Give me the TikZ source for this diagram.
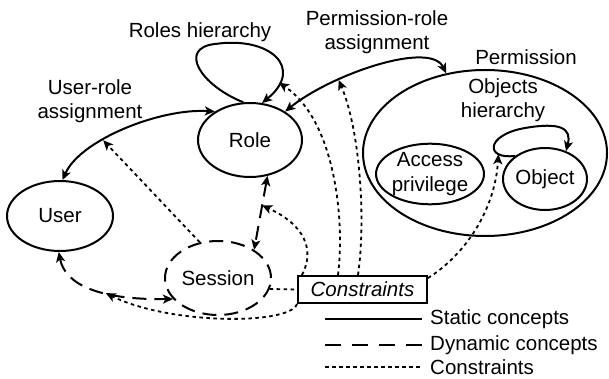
\documentclass[tikz,border=0pt]{standalone}
\usepackage{fontspec}
\setmainfont{Liberation Sans}
\usetikzlibrary{shapes.geometric,arrows.meta}
\begin{document}
\begin{tikzpicture}[x=1pt,y=-1pt,
  every node/.style={font=\fontsize{20.5}{24.5}\selectfont, inner sep=0pt, align=center},
  ell/.style={draw, ellipse, line width=2pt, inner sep=0pt},
  static/.style={line width=2pt},
  dyn/.style={line width=2pt, dash pattern=on 14pt off 8pt},
  cons/.style={line width=1.8pt, dash pattern=on 3.5pt off 3.5pt},
  >={Stealth[length=10pt,width=9pt,inset=2.5pt]}
]
\useasboundingbox (0,0) rectangle (609,379);

% nodes
\node[ell, minimum width=104pt, minimum height=74pt] (role) at (250,140) {Role};
\node[ell, minimum width=106pt, minimum height=70pt] (user) at (60,216) {User};
\node[ell, dyn, minimum width=106pt, minimum height=74pt] (session) at (218,278) {Session};
\node[ell, minimum width=244pt, minimum height=166pt] (perm) at (485,153) {};
\node[ell, minimum width=104pt, minimum height=58pt] (access) at (430,174) {Access\\privilege};
\node[ell, minimum width=84pt, minimum height=62pt] (obj) at (545,179) {Object};
\node[draw, line width=2pt, minimum width=129pt, minimum height=27pt, font=\fontsize{20.5}{24.5}\selectfont\itshape] (constraints) at (362.5,289.5) {Constraints};

% labels
\node (rhl) at (200,32) {Roles hierarchy};
\node (ural) at (90,101) {User-role\\assignment};
\node (pral) at (377,32) {Permission-role\\assignment};
\node (perml) at (526,57) {Permission};
\node (ohl) at (503,100) {Objects\\hierarchy};

% static connectors
\draw[static,<->] (user.86) .. controls (80,140) and (160,108) .. coordinate[pos=0.37] (ura1) (role.141);
\draw[static,->] (role.100) .. controls (200,85) and (178,48) .. (215,44)
   .. controls (270,36) and (305,68) .. coordinate[pos=0.8] (rh1) (role.72);
\draw[static,<->] (role.39) .. controls (330,75) and (430,40) .. coordinate[pos=0.31] (pra1) (perm.116);
\draw[static,->] (obj.142) .. controls (485,160) and (485,135) .. coordinate[pos=0.25] (oh1) (525,128)
   .. controls (560,122) and (572,128) .. (obj.53);

% dynamic connectors
\draw[dyn,<->] (role.296) -- coordinate[pos=0.4] (rs1) (session.38);
\draw[dyn,<->] (user.268) .. controls (65,285) and (100,300) .. coordinate[pos=0.62] (us1) (session.205);

% constraint connectors
\draw[cons,->] (session.117) -- (ura1);
\draw[cons,->] ([xshift=5pt]constraints.north west) .. controls (315,250) and (305,225) .. (rs1);
\draw[cons,->] ([xshift=-4.5pt]constraints.north) .. controls (366,220) and (360,130) .. (pra1);
\draw[cons,->] ([xshift=-24.5pt]constraints.north) .. controls (345,220) and (335,120) .. (rh1);
\draw[cons,->] ([yshift=-3pt]constraints.north east) .. controls (465,255) and (495,210) .. (oh1);
\draw[cons] (session.-12) -- (constraints.west);
\draw[cons,->] (constraints.south west) .. controls (290,325) and (170,325) .. (us1);

% legend
\node[anchor=west] (lg1) at (430,319) {Static concepts};
\node[anchor=west] (lg2) at (430,345) {Dynamic concepts};
\node[anchor=west] (lg3) at (430,367) {Constraints};
\coordinate (lg1a) at (325,319);
\coordinate (lg2a) at (325,345);
\coordinate (lg3a) at (325,367);
\draw[static] (lg1a) -- ([xshift=-8pt]lg1.west);
\draw[dyn, dash pattern=on 16pt off 11pt] (lg2a) -- ([xshift=-8pt]lg2.west);
\draw[cons] (lg3a) -- ([xshift=-8pt]lg3.west);
\end{tikzpicture}
\end{document}
